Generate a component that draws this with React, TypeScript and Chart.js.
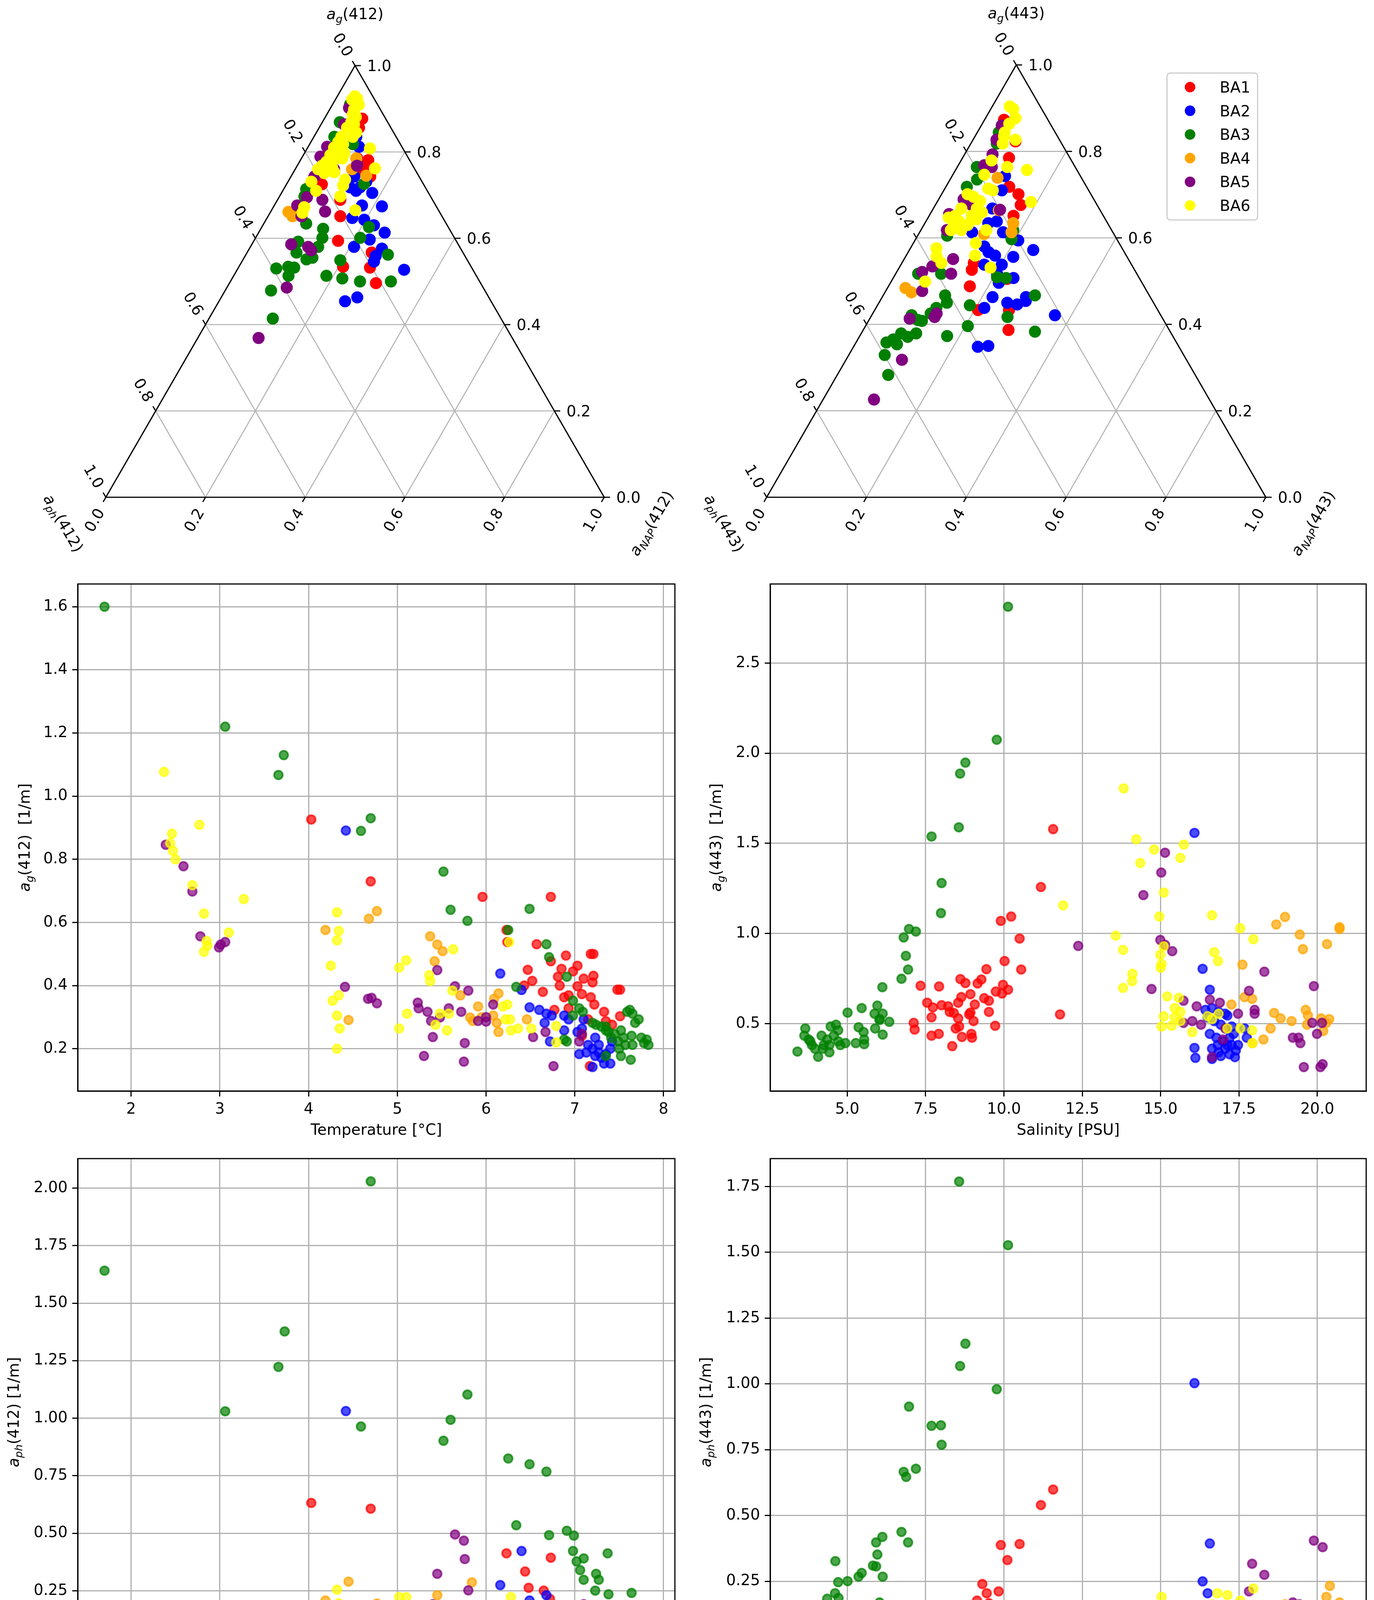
import React, { useEffect, useRef } from 'react';
import { Chart, registerables } from 'chart.js';

Chart.register(...registerables);
Chart.defaults.font.family = '"DejaVu Sans", sans-serif';

const FONT = '"DejaVu Sans", sans-serif';
const S3 = Math.sqrt(3);
const GROUPS = ['BA1', 'BA2', 'BA3', 'BA4', 'BA5', 'BA6'];
const COLORS = ['255,0,0', '0,0,255', '0,128,0', '255,165,0', '128,0,128', '255,255,0'];
const TERN_TICKS = [0, 0.2, 0.4, 0.6, 0.8, 1.0];
const TERN_GRID = [0.2, 0.4, 0.6, 0.8];

// ---------- ternary data: [a_g, a_NAP] fractions (a_ph = 1 - a_g - a_NAP) ----------
const t412BA1 = [[0.877,0.076],[0.856,0.080],[0.842,0.077],[0.785,0.112],[0.781,0.136],[0.768,0.138],[0.760,0.126],[0.743,0.159],[0.725,0.071],[0.689,0.126],[0.651,0.145],[0.567,0.250],[0.594,0.169],[0.534,0.209],[0.532,0.264],[0.496,0.294]];
const t412BA2 = [[0.835,0.085],[0.812,0.102],[0.770,0.119],[0.743,0.127],[0.718,0.131],[0.710,0.147],[0.705,0.182],[0.676,0.176],[0.674,0.217],[0.647,0.171],[0.643,0.197],[0.630,0.223],[0.613,0.253],[0.597,0.231],[0.580,0.208],[0.576,0.266],[0.559,0.262],[0.546,0.265],[0.527,0.335],[0.463,0.273],[0.454,0.253],[0.718,0.151],[0.731,0.157]];
const t412BA3 = [[0.910,0.035],[0.869,0.035],[0.835,0.041],[0.818,0.087],[0.714,0.045],[0.697,0.050],[0.726,0.155],[0.634,0.085],[0.622,0.125],[0.601,0.134],[0.580,0.136],[0.592,0.090],[0.567,0.099],[0.551,0.127],[0.555,0.137],[0.530,0.077],[0.534,0.099],[0.532,0.112],[0.513,0.110],[0.549,0.196],[0.513,0.186],[0.507,0.221],[0.500,0.260],[0.500,0.322],[0.479,0.092],[0.414,0.128],[0.626,0.215],[0.601,0.210],[0.562,0.285]];
const t412BA4 = [[0.845,0.076],[0.785,0.110],[0.745,0.150],[0.661,0.036],[0.651,0.049],[0.760,0.114]];
const t412BA5 = [[0.902,0.037],[0.864,0.046],[0.812,0.038],[0.789,0.036],[0.768,0.120],[0.743,0.047],[0.695,0.056],[0.689,0.090],[0.676,0.046],[0.651,0.067],[0.662,0.109],[0.586,0.079],[0.580,0.116],[0.572,0.126],[0.486,0.120],[0.369,0.122],[0.760,0.078]];
const t412BA6 = [[0.929,0.035],[0.923,0.043],[0.921,0.034],[0.910,0.047],[0.909,0.053],[0.898,0.049],[0.887,0.052],[0.881,0.061],[0.869,0.058],[0.864,0.066],[0.856,0.056],[0.845,0.080],[0.835,0.078],[0.835,0.055],[0.823,0.055],[0.818,0.067],[0.808,0.126],[0.810,0.053],[0.802,0.065],[0.797,0.080],[0.793,0.054],[0.785,0.070],[0.785,0.082],[0.777,0.054],[0.768,0.050],[0.764,0.072],[0.760,0.046],[0.751,0.063],[0.753,0.082],[0.762,0.159],[0.736,0.112],[0.722,0.115],[0.731,0.047],[0.710,0.067],[0.697,0.122],[0.672,0.062],[0.659,0.065],[0.665,0.168]];

const t443BA1 = [[0.873,0.039],[0.823,0.087],[0.785,0.093],[0.701,0.154],[0.676,0.171],[0.651,0.169],[0.718,0.127],[0.526,0.148],[0.542,0.144],[0.488,0.163],[0.433,0.269],[0.387,0.291],[0.433,0.207],[0.505,0.229]];
const t443BA2 = [[0.743,0.106],[0.710,0.116],[0.668,0.118],[0.638,0.142],[0.634,0.127],[0.613,0.105],[0.613,0.167],[0.609,0.182],[0.594,0.207],[0.572,0.248],[0.580,0.146],[0.567,0.161],[0.559,0.178],[0.538,0.202],[0.556,0.216],[0.538,0.167],[0.517,0.203],[0.496,0.217],[0.507,0.241],[0.463,0.221],[0.438,0.217],[0.450,0.257],[0.446,0.279],[0.463,0.288],[0.454,0.292],[0.421,0.367],[0.348,0.249],[0.350,0.269]];
const t443BA3 = [[0.844,0.043],[0.818,0.052],[0.764,0.039],[0.735,0.054],[0.718,0.042],[0.605,0.059],[0.618,0.185],[0.597,0.192],[0.517,0.045],[0.517,0.091],[0.467,0.124],[0.450,0.136],[0.444,0.185],[0.509,0.207],[0.507,0.226],[0.417,0.274],[0.467,0.304],[0.383,0.346],[0.373,0.175],[0.396,0.205],[0.425,0.116],[0.438,0.121],[0.421,0.080],[0.410,0.098],[0.408,0.107],[0.379,0.080],[0.371,0.097],[0.379,0.110],[0.358,0.061],[0.365,0.071],[0.354,0.084],[0.329,0.072],[0.283,0.102]];
const t443BA4 = [[0.739,0.093],[0.664,0.133],[0.634,0.177],[0.613,0.184],[0.609,0.131],[0.484,0.036],[0.474,0.053]];
const t443BA5 = [[0.860,0.041],[0.827,0.047],[0.793,0.056],[0.768,0.052],[0.764,0.069],[0.689,0.050],[0.676,0.073],[0.655,0.038],[0.634,0.061],[0.618,0.052],[0.665,0.135],[0.551,0.098],[0.517,0.111],[0.521,0.051],[0.534,0.065],[0.477,0.073],[0.413,0.080],[0.417,0.128],[0.425,0.128],[0.318,0.112],[0.226,0.102]];
const t443BA6 = [[0.904,0.035],[0.898,0.045],[0.877,0.060],[0.864,0.054],[0.844,0.055],[0.835,0.058],[0.827,0.085],[0.818,0.064],[0.779,0.061],[0.764,0.100],[0.757,0.143],[0.746,0.063],[0.683,0.188],[0.701,0.052],[0.695,0.067],[0.685,0.085],[0.668,0.087],[0.659,0.102],[0.651,0.085],[0.643,0.099],[0.668,0.056],[0.651,0.052],[0.647,0.041],[0.638,0.067],[0.626,0.061],[0.630,0.088],[0.618,0.081],[0.618,0.060],[0.618,0.131],[0.588,0.125],[0.559,0.138],[0.576,0.052],[0.557,0.062],[0.542,0.079],[0.531,0.183],[0.499,0.068],[0.714,0.087],[0.710,0.098]];

// ---------- Temperature [°C] vs a_g(412) ----------
const tAg412BA1 = [[4.03,0.926],[4.70,0.73],[5.96,0.681],[6.73,0.681],[6.23,0.576],[6.24,0.538],[6.57,0.531],[6.90,0.495],[7.18,0.50],[7.21,0.50],[6.73,0.477],[7.03,0.463],[6.85,0.453],[6.47,0.45],[7.21,0.431],[6.81,0.428],[7.20,0.41],[6.52,0.415],[6.43,0.40],[6.83,0.40],[7.03,0.398],[6.64,0.38],[7.48,0.387],[7.51,0.387],[6.93,0.369],[7.08,0.373],[7.18,0.363],[6.88,0.363],[7.22,0.34],[6.77,0.323],[7.33,0.317],[7.51,0.303],[7.15,0.293],[7.35,0.287],[7.42,0.276],[7.08,0.241],[7.17,0.145],[6.98,0.445],[7.10,0.422],[6.93,0.328]];
const tAg412BA2 = [[4.42,0.891],[6.16,0.438],[6.40,0.386],[6.49,0.331],[6.60,0.323],[6.68,0.311],[6.66,0.282],[6.74,0.305],[6.88,0.305],[6.93,0.293],[6.72,0.223],[6.88,0.258],[7.03,0.253],[7.10,0.293],[7.08,0.264],[7.05,0.183],[7.15,0.212],[7.23,0.235],[7.20,0.20],[7.27,0.188],[7.30,0.171],[7.35,0.183],[7.40,0.153],[7.23,0.177],[7.13,0.188],[7.40,0.20],[7.20,0.142],[7.42,0.223],[7.27,0.212],[7.33,0.153]];
const tAg412BA3 = [[1.70,1.60],[3.06,1.22],[3.72,1.13],[3.66,1.067],[4.70,0.93],[4.59,0.89],[5.52,0.761],[5.60,0.64],[5.79,0.605],[6.49,0.643],[6.25,0.576],[6.68,0.531],[6.71,0.49],[6.91,0.428],[6.34,0.396],[6.98,0.352],[7.05,0.328],[7.09,0.317],[6.98,0.305],[7.20,0.282],[7.24,0.276],[7.35,0.27],[7.38,0.253],[7.45,0.247],[7.41,0.235],[7.49,0.223],[7.62,0.323],[7.59,0.317],[7.65,0.311],[7.72,0.293],[7.68,0.282],[7.52,0.258],[7.55,0.235],[7.64,0.241],[7.75,0.235],[7.81,0.229],[7.78,0.218],[7.83,0.212],[7.65,0.212],[7.57,0.212],[7.50,0.20],[7.52,0.177],[7.63,0.165],[7.35,0.177],[6.91,0.223],[6.88,0.229],[7.35,0.258],[7.30,0.27]];
const tAg412BA4 = [[4.19,0.576],[4.77,0.636],[4.68,0.612],[5.37,0.556],[5.45,0.53],[5.51,0.509],[5.42,0.477],[4.45,0.291],[5.71,0.369],[5.91,0.334],[5.82,0.299],[5.85,0.288],[6.09,0.358],[6.14,0.375],[6.08,0.305],[6.12,0.282],[6.14,0.253],[6.46,0.293],[5.95,0.30]];
const tAg412BA5 = [[2.39,0.846],[2.59,0.778],[2.69,0.698],[2.78,0.556],[2.99,0.521],[3.06,0.538],[3.01,0.53],[4.41,0.396],[5.45,0.449],[4.67,0.358],[4.71,0.361],[4.77,0.344],[5.23,0.346],[5.24,0.328],[5.34,0.317],[5.38,0.288],[5.48,0.299],[5.58,0.328],[5.65,0.398],[5.80,0.384],[5.72,0.317],[5.91,0.288],[6.00,0.30],[6.00,0.286],[6.08,0.34],[5.40,0.237],[5.76,0.218],[5.30,0.177],[5.75,0.159],[6.53,0.237],[6.67,0.253],[6.76,0.145],[7.08,0.247],[7.05,0.223]];
const tAg412BA6 = [[2.37,1.077],[2.77,0.909],[2.46,0.881],[2.44,0.851],[2.47,0.827],[2.50,0.80],[2.69,0.718],[3.27,0.674],[2.82,0.628],[3.10,0.568],[2.85,0.541],[2.86,0.527],[2.82,0.507],[4.32,0.632],[4.34,0.573],[4.32,0.543],[4.25,0.463],[4.34,0.369],[4.27,0.352],[4.32,0.305],[4.35,0.264],[4.32,0.20],[5.02,0.457],[5.10,0.48],[5.11,0.311],[5.02,0.264],[5.36,0.433],[5.37,0.414],[5.63,0.515],[5.62,0.384],[5.48,0.311],[5.58,0.311],[5.43,0.276],[5.56,0.258],[6.19,0.334],[6.24,0.34],[6.26,0.538],[6.22,0.293],[6.27,0.293],[6.28,0.258],[6.36,0.264],[6.51,0.264],[6.79,0.272],[6.79,0.22]];

// ---------- Salinity [PSU] vs a_g(443) ----------
const sAg443BA1 = [[11.57,1.579],[11.18,1.258],[10.23,1.094],[9.90,1.07],[10.50,0.972],[10.02,0.847],[9.44,0.802],[10.55,0.80],[7.34,0.71],[7.93,0.706],[8.61,0.747],[8.77,0.725],[9.16,0.723],[9.28,0.745],[9.97,0.715],[9.74,0.678],[10.13,0.688],[9.94,0.667],[8.93,0.663],[8.64,0.647],[9.37,0.641],[9.52,0.627],[7.55,0.616],[7.73,0.59],[8.01,0.602],[8.22,0.596],[8.27,0.565],[8.40,0.559],[8.54,0.616],[9.07,0.606],[8.93,0.561],[8.89,0.551],[9.52,0.565],[7.69,0.535],[8.54,0.529],[9.03,0.514],[7.12,0.504],[7.15,0.467],[8.46,0.473],[8.57,0.484],[9.72,0.488],[7.69,0.433],[7.92,0.443],[8.66,0.426],[8.96,0.443],[8.98,0.422],[8.35,0.375],[11.79,0.551]];
const sAg443BA2 = [[16.08,1.558],[16.34,0.804],[16.57,0.688],[16.43,0.576],[16.64,0.586],[16.85,0.565],[17.06,0.555],[16.50,0.535],[16.71,0.514],[16.92,0.494],[17.13,0.545],[17.27,0.484],[16.57,0.443],[16.78,0.422],[16.99,0.402],[17.20,0.422],[17.33,0.443],[17.47,0.381],[17.68,0.473],[17.75,0.422],[16.64,0.361],[16.85,0.341],[17.06,0.361],[17.20,0.33],[17.40,0.351],[17.27,0.381],[16.08,0.365],[16.11,0.31],[16.64,0.304],[17.37,0.314],[16.92,0.32],[17.13,0.381],[16.82,0.381]];
const sAg443BA3 = [[10.13,2.813],[9.77,2.075],[8.77,1.948],[8.60,1.887],[8.56,1.589],[7.69,1.538],[8.01,1.28],[7.99,1.113],[6.97,1.025],[7.19,1.011],[6.80,0.978],[6.87,0.876],[6.94,0.80],[6.73,0.749],[6.12,0.702],[5.01,0.561],[5.46,0.586],[5.96,0.60],[5.87,0.555],[6.13,0.555],[6.03,0.525],[6.34,0.51],[6.13,0.439],[5.89,0.473],[5.36,0.48],[5.52,0.453],[5.54,0.412],[5.27,0.392],[5.54,0.386],[3.66,0.473],[3.63,0.433],[3.77,0.412],[3.87,0.381],[3.97,0.361],[4.07,0.316],[3.41,0.345],[4.18,0.433],[4.36,0.412],[4.47,0.484],[4.64,0.494],[4.71,0.463],[4.43,0.381],[4.71,0.402],[4.78,0.381],[4.94,0.392],[4.43,0.341],[3.82,0.402],[4.25,0.381],[4.22,0.361],[4.57,0.433],[6.03,0.52]];
const sAg443BA4 = [[20.71,1.035],[20.71,1.025],[18.97,1.092],[18.69,1.05],[19.44,0.994],[20.31,0.941],[19.54,0.913],[17.61,0.827],[17.68,0.647],[17.92,0.637],[17.26,0.606],[18.62,0.559],[18.83,0.529],[19.18,0.514],[19.63,0.576],[19.70,0.545],[19.67,0.494],[20.12,0.529],[20.38,0.525],[20.29,0.504],[20.19,0.459],[18.51,0.473],[17.93,0.392],[18.28,0.412]];
const sAg443BA5 = [[15.14,1.448],[15.02,1.338],[14.45,1.213],[12.37,0.931],[14.99,0.964],[15.14,0.937],[15.37,0.902],[14.71,0.692],[18.31,0.788],[19.89,0.708],[17.82,0.682],[16.15,0.596],[16.57,0.633],[16.89,0.616],[17.47,0.555],[18.0,0.576],[18.0,0.555],[15.73,0.504],[16.01,0.514],[16.29,0.494],[17.06,0.473],[16.99,0.412],[16.64,0.314],[19.22,0.422],[19.40,0.422],[19.46,0.392],[19.84,0.504],[19.99,0.443],[20.15,0.504],[19.57,0.259],[20.10,0.259],[20.17,0.275],[15.73,0.627]];
const sAg443BA6 = [[13.82,1.805],[14.22,1.523],[14.79,1.466],[15.74,1.493],[15.63,1.419],[14.35,1.391],[15.10,1.227],[11.89,1.156],[14.96,1.094],[16.64,1.101],[13.57,0.988],[13.80,0.909],[14.99,0.882],[15.10,0.929],[15.03,0.831],[15.0,0.81],[16.71,0.896],[16.83,0.847],[17.54,1.029],[17.96,0.968],[14.10,0.776],[14.09,0.735],[13.80,0.698],[15.21,0.651],[15.58,0.643],[15.45,0.586],[15.63,0.565],[15.45,0.535],[15.63,0.514],[15.10,0.541],[15.03,0.484],[15.35,0.488],[16.01,0.453],[16.50,0.541],[16.64,0.525],[16.85,0.555],[17.13,0.473],[17.54,0.473],[17.92,0.463],[17.93,0.392]];

// ---------- Temperature [°C] vs a_ph(412) ----------
const tAph412BA1 = [[4.03,0.632],[4.70,0.607],[6.23,0.413],[6.73,0.394],[6.44,0.334],[6.48,0.263],[6.65,0.251],[6.72,0.215],[6.67,0.187],[6.84,0.18],[6.93,0.16],[7.05,0.152],[7.18,0.176],[6.78,0.12],[6.78,0.088],[6.91,0.064],[7.03,0.048],[7.13,0.04],[7.20,0.032],[7.28,0.024],[7.35,0.021],[7.42,0.027],[7.47,0.032],[7.30,0.048],[7.40,0.056],[6.96,0.088],[7.08,0.104],[7.23,0.088],[6.51,0.176],[6.56,0.16]];
const tAph412BA2 = [[4.42,1.031],[6.40,0.423],[6.16,0.275],[6.68,0.231],[6.49,0.208],[6.59,0.176],[6.68,0.168],[6.76,0.152],[6.71,0.12],[6.73,0.104],[6.83,0.136],[6.86,0.112],[6.88,0.096],[6.93,0.16],[6.98,0.144],[7.03,0.12],[7.08,0.136],[7.13,0.112],[7.18,0.096],[7.23,0.136],[7.25,0.12],[7.30,0.104],[7.35,0.088],[7.33,0.072],[7.25,0.08],[7.15,0.088],[7.10,0.072],[6.93,0.088],[7.40,0.112],[7.42,0.072]];
const tAph412BA3 = [[1.70,1.641],[4.70,2.029],[3.73,1.377],[3.66,1.223],[3.06,1.03],[4.59,0.964],[5.79,1.103],[5.60,0.993],[5.52,0.902],[6.25,0.825],[6.49,0.80],[6.68,0.768],[6.34,0.535],[6.71,0.492],[6.91,0.511],[6.99,0.49],[6.98,0.423],[7.02,0.378],[7.10,0.391],[7.37,0.413],[7.06,0.34],[7.10,0.298],[7.24,0.324],[7.27,0.298],[7.23,0.251],[7.38,0.235],[7.64,0.241],[7.38,0.18],[7.40,0.168],[7.60,0.187],[7.76,0.164],[7.55,0.152],[7.67,0.152],[7.72,0.144],[7.47,0.12],[7.52,0.112],[7.59,0.104],[7.61,0.096],[7.55,0.088],[7.35,0.088],[7.33,0.072],[7.80,0.075],[7.81,0.056],[7.82,0.04],[7.72,0.048],[7.62,0.04],[7.64,0.032],[6.88,0.032],[7.45,0.056]];
const tAph412BA4 = [[4.19,0.208],[4.45,0.29],[4.68,0.176],[4.77,0.195],[5.45,0.231],[5.84,0.287],[5.80,0.10],[5.86,0.072],[5.91,0.104],[6.07,0.12],[6.09,0.112],[6.12,0.128],[6.14,0.104],[6.08,0.10],[6.13,0.072],[6.46,0.088],[5.70,0.152],[5.53,0.12]];
const tAph412BA5 = [[2.39,0.064],[2.59,0.085],[2.69,0.088],[2.76,0.088],[2.99,0.144],[3.06,0.128],[2.99,0.10],[4.41,0.12],[4.65,0.072],[4.70,0.08],[4.77,0.075],[5.65,0.495],[5.75,0.468],[5.76,0.388],[5.45,0.324],[5.80,0.252],[5.23,0.144],[5.26,0.123],[5.33,0.168],[5.40,0.192],[5.55,0.187],[5.72,0.144],[5.90,0.152],[6.00,0.144],[5.95,0.128],[6.08,0.184],[7.10,0.192],[7.15,0.171],[6.98,0.152]];
const tAph412BA6 = [[2.37,0.075],[2.44,0.08],[2.47,0.056],[2.52,0.064],[2.69,0.064],[2.79,0.08],[2.84,0.072],[2.86,0.064],[3.10,0.064],[3.27,0.091],[4.32,0.255],[4.34,0.196],[4.29,0.16],[4.32,0.136],[4.27,0.112],[4.34,0.104],[4.24,0.096],[5.02,0.223],[5.10,0.223],[5.10,0.152],[5.02,0.125],[5.36,0.155],[5.43,0.16],[5.48,0.136],[5.55,0.128],[5.62,0.112],[5.56,0.104],[5.45,0.112],[5.36,0.08],[5.62,0.18],[5.65,0.16],[6.19,0.176],[6.24,0.152],[6.27,0.136],[6.22,0.128],[6.28,0.223],[6.36,0.18],[6.51,0.125],[6.79,0.144],[6.78,0.12]];

// ---------- Salinity [PSU] vs a_ph(443) ----------
const sAph443BA1 = [[11.57,0.599],[11.18,0.54],[9.90,0.388],[10.50,0.392],[10.11,0.331],[9.31,0.24],[9.45,0.205],[9.83,0.212],[9.14,0.177],[9.52,0.167],[7.54,0.126],[7.71,0.114],[9.94,0.149],[10.57,0.14],[10.08,0.128],[10.22,0.128],[8.57,0.135],[8.75,0.142],[8.66,0.121],[9.07,0.121],[8.93,0.10],[8.99,0.087],[8.89,0.066],[8.27,0.087],[8.40,0.07],[8.54,0.075],[8.68,0.059],[8.01,0.052],[8.13,0.045],[8.47,0.038],[8.61,0.045],[8.80,0.052],[9.53,0.084],[9.42,0.052],[9.97,0.087],[9.66,0.10],[7.36,0.038],[7.71,0.024],[7.96,0.028],[7.12,0.02],[7.15,0.024],[8.33,0.021],[8.99,0.024],[11.79,0.081]];
const sAph443BA2 = [[16.08,1.003],[16.57,0.394],[16.34,0.25],[16.50,0.205],[16.36,0.156],[16.57,0.149],[16.78,0.142],[16.99,0.135],[16.64,0.114],[16.85,0.10],[17.06,0.087],[17.27,0.10],[17.20,0.073],[16.57,0.059],[16.78,0.052],[16.99,0.038],[17.20,0.045],[17.40,0.052],[17.33,0.073],[16.64,0.038],[16.11,0.066],[17.75,0.087],[17.68,0.114]];
const sAph443BA3 = [[8.57,1.769],[10.13,1.527],[8.77,1.153],[8.60,1.068],[9.77,0.98],[6.97,0.914],[7.69,0.841],[7.99,0.843],[8.01,0.769],[7.19,0.678],[6.80,0.666],[6.88,0.647],[6.73,0.438],[6.94,0.398],[6.12,0.419],[5.92,0.398],[5.96,0.352],[5.82,0.31],[5.92,0.307],[6.13,0.268],[4.62,0.327],[4.71,0.247],[5.01,0.251],[5.36,0.268],[5.46,0.282],[4.61,0.205],[4.72,0.187],[4.36,0.184],[6.03,0.17],[6.13,0.153],[6.34,0.131],[3.66,0.142],[3.80,0.142],[3.87,0.128],[4.19,0.142],[4.43,0.114],[3.42,0.052],[3.66,0.073],[3.73,0.093],[3.87,0.045],[4.05,0.031],[4.11,0.024],[3.94,0.066],[4.08,0.073],[4.36,0.087],[4.43,0.045],[4.50,0.052],[4.64,0.073],[4.75,0.066],[4.71,0.031],[5.29,0.059],[5.33,0.094],[5.52,0.08],[5.54,0.038],[4.94,0.024],[5.89,0.052]];
const sAph443BA4 = [[20.40,0.233],[20.29,0.191],[20.71,0.17],[18.70,0.148],[18.97,0.163],[17.26,0.128],[17.61,0.121],[18.62,0.08],[18.83,0.087],[19.16,0.07],[19.63,0.08],[19.67,0.094],[19.70,0.073],[20.01,0.052],[20.19,0.056],[20.38,0.073]];
const sAph443BA5 = [[12.37,0.105],[14.45,0.075],[14.71,0.10],[15.14,0.052],[15.38,0.087],[15.66,0.10],[15.94,0.107],[16.15,0.114],[16.36,0.128],[16.64,0.059],[16.85,0.073],[17.06,0.066],[17.27,0.059],[16.85,0.149],[16.99,0.142],[17.82,0.212],[17.92,0.317],[18.31,0.275],[17.89,0.159],[19.22,0.17],[19.43,0.163],[19.57,0.135],[19.84,0.121],[19.99,0.142],[20.15,0.128],[19.89,0.405],[20.17,0.38]];
const sAph443BA6 = [[11.89,0.10],[13.80,0.159],[14.10,0.138],[13.80,0.094],[13.80,0.087],[13.57,0.054],[14.12,0.066],[14.33,0.059],[15.03,0.191],[15.10,0.131],[15.49,0.135],[14.89,0.073],[15.17,0.052],[15.31,0.10],[15.45,0.087],[15.59,0.073],[15.66,0.052],[15.80,0.094],[16.01,0.094],[16.64,0.163],[16.78,0.128],[16.71,0.094],[16.81,0.205],[17.13,0.198],[17.54,0.177],[17.54,0.135],[17.54,0.114],[17.96,0.223],[17.89,0.114],[18.03,0.121],[18.28,0.128]];

// ---------- tick values ----------
const tempTicks = [2, 3, 4, 5, 6, 7, 8];
const salTicks = [5, 7.5, 10, 12.5, 15, 17.5, 20];
const ag412Ticks = [0.2, 0.4, 0.6, 0.8, 1.0, 1.2, 1.4, 1.6];
const ag443Ticks = [0.5, 1.0, 1.5, 2.0, 2.5];
const aph412Ticks = [0, 0.25, 0.5, 0.75, 1.0, 1.25, 1.5, 1.75, 2.0];
const aph443Ticks = [0, 0.25, 0.5, 0.75, 1.0, 1.25, 1.5, 1.75];

type Seg = { t: string; it?: boolean; sub?: boolean };

function drawMath(ctx: CanvasRenderingContext2D, segs: Seg[], x: number, y: number, angle: number, size: number, align: string = 'center') {
  ctx.save();
  ctx.translate(x, y);
  ctx.rotate(angle);
  const fontOf = (s: Seg) => `${s.it ? 'italic ' : ''}${s.sub ? size * 0.7 : size}px ${FONT}`;
  let w = 0;
  const ws = segs.map((s) => {
    ctx.font = fontOf(s);
    const m = ctx.measureText(s.t).width;
    w += m;
    return m;
  });
  let cx = align === 'left' ? 0 : -w / 2;
  ctx.textAlign = 'left';
  ctx.textBaseline = 'alphabetic';
  ctx.fillStyle = '#000';
  const base = size * 0.36;
  segs.forEach((s, i) => {
    ctx.font = fontOf(s);
    ctx.fillText(s.t, cx, base + (s.sub ? size * 0.22 : 0));
    cx += ws[i];
  });
  ctx.restore();
}

function line(ctx: CanvasRenderingContext2D, a: any, b: any) {
  ctx.beginPath();
  ctx.moveTo(a.x, a.y);
  ctx.lineTo(b.x, b.y);
  ctx.stroke();
}

const TERNS = [
  {
    left: 0, top: 0, w: 1759, h: 1450, bx: 271, by: 1273, side: 1276, wl: '412', legend: false,
    data: [t412BA1, t412BA2, t412BA3, t412BA4, t412BA5, t412BA6],
  },
  {
    left: 1759, top: 0, w: 1759, h: 1450, bx: 204, by: 1273, side: 1278, wl: '443', legend: true,
    data: [t443BA1, t443BA2, t443BA3, t443BA4, t443BA5, t443BA6],
  },
];

function ternPlugin(t: any) {
  return {
    id: 'tern' + t.wl,
    beforeDatasetsDraw(chart: any) {
      const ctx = chart.ctx as CanvasRenderingContext2D;
      const xs = chart.scales.x;
      const ys = chart.scales.y;
      const P = (ag: number, anap: number) => ({ x: xs.getPixelForValue(anap + ag / 2), y: ys.getPixelForValue((ag * S3) / 2) });
      ctx.save();
      ctx.lineCap = 'butt';
      // grid
      ctx.strokeStyle = '#b3b3b3';
      ctx.lineWidth = 2.6;
      TERN_GRID.forEach((v) => {
        line(ctx, P(v, 0), P(v, 1 - v));
        line(ctx, P(0, v), P(1 - v, v));
        line(ctx, P(0, 1 - v), P(1 - v, 0));
      });
      // boundary
      ctx.strokeStyle = '#000';
      ctx.lineWidth = 3.2;
      ctx.lineJoin = 'miter';
      const A = P(0, 0), B = P(0, 1), C = P(1, 0);
      ctx.beginPath();
      ctx.moveTo(A.x, A.y);
      ctx.lineTo(B.x, B.y);
      ctx.lineTo(C.x, C.y);
      ctx.closePath();
      ctx.stroke();
      // ticks + labels
      ctx.lineWidth = 3;
      TERN_TICKS.forEach((v) => {
        const lab = [{ t: v.toFixed(1) }];
        const pr = P(v, 1 - v);
        line(ctx, pr, { x: pr.x + 15, y: pr.y });
        drawMath(ctx, lab, pr.x + 62, pr.y, 0, 39);
        const pl = P(1 - v, 0);
        line(ctx, pl, { x: pl.x - 7, y: pl.y - 12 });
        drawMath(ctx, lab, pl.x - 30, pl.y - 54, Math.PI / 3, 39);
        const pb = P(0, v);
        line(ctx, pb, { x: pb.x - 7, y: pb.y + 12 });
        drawMath(ctx, lab, pb.x - 30, pb.y + 58, -Math.PI / 3, 39);
      });
      // axis labels
      drawMath(ctx, [{ t: 'a', it: true }, { t: 'g', it: true, sub: true }, { t: `(${t.wl})` }], C.x, C.y - 133, 0, 39);
      drawMath(ctx, [{ t: 'a', it: true }, { t: 'ph', it: true, sub: true }, { t: `(${t.wl})` }], A.x - 108, A.y + 66, Math.PI / 3, 39);
      drawMath(ctx, [{ t: 'a', it: true }, { t: 'NAP', it: true, sub: true }, { t: `(${t.wl})` }], B.x + 120, B.y + 66, -Math.PI / 3, 39);
      ctx.restore();
    },
    afterDatasetsDraw(chart: any) {
      if (!t.legend) return;
      const ctx = chart.ctx as CanvasRenderingContext2D;
      const x0 = 2988 - t.left, y0 = 187, w = 232, h = 376, r = 8;
      ctx.save();
      ctx.beginPath();
      ctx.moveTo(x0 + r, y0);
      ctx.arcTo(x0 + w, y0, x0 + w, y0 + h, r);
      ctx.arcTo(x0 + w, y0 + h, x0, y0 + h, r);
      ctx.arcTo(x0, y0 + h, x0, y0, r);
      ctx.arcTo(x0, y0, x0 + w, y0, r);
      ctx.closePath();
      ctx.fillStyle = 'rgba(255,255,255,0.8)';
      ctx.fill();
      ctx.strokeStyle = '#cccccc';
      ctx.lineWidth = 3;
      ctx.stroke();
      GROUPS.forEach((g, i) => {
        const yy = 223 + i * 60.6;
        ctx.beginPath();
        ctx.arc(3047 - t.left, yy, 13.5, 0, Math.PI * 2);
        ctx.fillStyle = `rgb(${COLORS[i]})`;
        ctx.fill();
        drawMath(ctx, [{ t: g }], 3123 - t.left, yy, 0, 39, 'left');
      });
      ctx.restore();
    },
  };
}

function ternConfig(t: any) {
  const datasets = t.data.map((arr: number[][], i: number) => ({
    label: GROUPS[i],
    data: arr.map(([ag, anap]) => ({ x: anap + ag / 2, y: (ag * S3) / 2 })),
    backgroundColor: `rgb(${COLORS[i]})`,
    borderColor: `rgb(${COLORS[i]})`,
    borderWidth: 5,
    pointRadius: 13,
    pointHoverRadius: 13,
    order: GROUPS.length - i,
    clip: false,
  }));
  return {
    type: 'scatter',
    data: { datasets },
    options: {
      animation: false,
      responsive: false,
      devicePixelRatio: 1,
      events: [],
      layout: { padding: 0, autoPadding: false },
      plugins: { legend: { display: false }, tooltip: { enabled: false } },
      scales: {
        x: { type: 'linear', display: false, min: -t.bx / t.side, max: (t.w - t.bx) / t.side },
        y: { type: 'linear', display: false, min: (t.by - t.h) / t.side, max: t.by / t.side },
      },
    },
    plugins: [ternPlugin(t)],
  };
}

const SCATS = [
  {
    id: 'tAg', left: 0, top: 1450, w: 1759, h: 1480, yW: 199, padTop: 45, padRight: 31, xH: 137, titlePad: 12, yTitleX: 62,
    xMin: 1.398, xMax: 8.128, yMin: 0.066, yMax: 1.672, xTicks: tempTicks, yTicks: ag412Ticks, xDec: 0, yDec: 1,
    xTitle: 'Temperature [°C]', yTitle: [{ t: 'a', it: true }, { t: 'g', it: true, sub: true }, { t: '(412)  [1/m]' }],
    data: [tAg412BA1, tAg412BA2, tAg412BA3, tAg412BA4, tAg412BA5, tAg412BA6],
  },
  {
    id: 'sAg', left: 1759, top: 1450, w: 1759, h: 1480, yW: 213, padTop: 45, padRight: 20, xH: 137, titlePad: 12, yTitleX: 73,
    xMin: 2.54, xMax: 21.56, yMin: 0.126, yMax: 2.939, xTicks: salTicks, yTicks: ag443Ticks, xDec: 1, yDec: 1,
    xTitle: 'Salinity [PSU]', yTitle: [{ t: 'a', it: true }, { t: 'g', it: true, sub: true }, { t: '(443)  [1/m]' }],
    data: [sAg443BA1, sAg443BA2, sAg443BA3, sAg443BA4, sAg443BA5, sAg443BA6],
  },
  {
    id: 'tAph', left: 0, top: 2930, w: 1759, h: 1476, yW: 199, padTop: 36, padRight: 31, xH: 142, titlePad: 14.6, yTitleX: 34,
    xMin: 1.398, xMax: 8.128, yMin: -0.075, yMax: 2.128, xTicks: tempTicks, yTicks: aph412Ticks, xDec: 0, yDec: 2,
    xTitle: 'Temperature [°C]', yTitle: [{ t: 'a', it: true }, { t: 'ph', it: true, sub: true }, { t: '(412) [1/m]' }],
    data: [tAph412BA1, tAph412BA2, tAph412BA3, tAph412BA4, tAph412BA5, tAph412BA6],
  },
  {
    id: 'sAph', left: 1759, top: 2930, w: 1759, h: 1476, yW: 213, padTop: 36, padRight: 20, xH: 142, titlePad: 14.6, yTitleX: 47,
    xMin: 2.54, xMax: 21.56, yMin: -0.07, yMax: 1.856, xTicks: salTicks, yTicks: aph443Ticks, xDec: 1, yDec: 2,
    xTitle: 'Salinity [PSU]', yTitle: [{ t: 'a', it: true }, { t: 'ph', it: true, sub: true }, { t: '(443) [1/m]' }],
    data: [sAph443BA1, sAph443BA2, sAph443BA3, sAph443BA4, sAph443BA5, sAph443BA6],
  },
];

function scatConfig(p: any) {
  const datasets = p.data.map((arr: number[][], i: number) => ({
    label: GROUPS[i],
    data: arr.map(([x, y]) => ({ x, y })),
    backgroundColor: `rgba(${COLORS[i]},0.7)`,
    borderColor: `rgba(${COLORS[i]},0.7)`,
    borderWidth: 4.5,
    pointRadius: 11,
    pointHoverRadius: 11,
    order: GROUPS.length - i,
  }));
  const tickFont = { family: FONT, size: 39 };
  const grid = { color: '#b0b0b0', lineWidth: 3, drawTicks: true, tickLength: 14, tickColor: '#000', tickWidth: 3 };
  const border = { color: '#000', width: 3 };
  return {
    type: 'scatter',
    data: { datasets },
    options: {
      animation: false,
      responsive: false,
      devicePixelRatio: 1,
      events: [],
      layout: { autoPadding: false, padding: { left: 0, top: p.padTop, right: p.padRight, bottom: 0 } },
      plugins: { legend: { display: false }, tooltip: { enabled: false } },
      scales: {
        x: {
          type: 'linear', min: p.xMin, max: p.xMax,
          afterFit: (s: any) => { s.height = p.xH; },
          afterBuildTicks: (s: any) => { s.ticks = p.xTicks.map((v: number) => ({ value: v })); },
          ticks: { callback: (v: any) => Number(v).toFixed(p.xDec), font: tickFont, color: '#000', padding: 10, maxRotation: 0, minRotation: 0, autoSkip: false },
          grid, border,
          title: { display: true, text: p.xTitle, font: { family: FONT, size: 39, lineHeight: 1.2 }, color: '#000', padding: { top: 0, bottom: p.titlePad } },
        },
        y: {
          type: 'linear', min: p.yMin, max: p.yMax,
          afterFit: (s: any) => { s.width = p.yW; },
          afterBuildTicks: (s: any) => { s.ticks = p.yTicks.map((v: number) => ({ value: v })); },
          ticks: { callback: (v: any) => Number(v).toFixed(p.yDec), font: tickFont, color: '#000', padding: 12, autoSkip: false },
          grid, border,
        },
      },
    },
    plugins: [
      {
        id: 'frame' + p.id,
        afterDatasetsDraw(chart: any) {
          const { ctx, chartArea: a } = chart;
          ctx.save();
          ctx.strokeStyle = '#000';
          ctx.lineWidth = 3;
          ctx.strokeRect(a.left, a.top, a.right - a.left, a.bottom - a.top);
          ctx.restore();
        },
        afterDraw(chart: any) {
          const a = chart.chartArea;
          drawMath(chart.ctx, p.yTitle, p.yTitleX, (a.top + a.bottom) / 2, -Math.PI / 2, 39);
        },
      },
    ],
  };
}

const ALL = [
  ...TERNS.map((t) => ({ left: t.left, top: t.top, w: t.w, h: t.h, make: () => ternConfig(t) })),
  ...SCATS.map((p) => ({ left: p.left, top: p.top, w: p.w, h: p.h, make: () => scatConfig(p) })),
];

export default function App() {
  const canv = useRef<(HTMLCanvasElement | null)[]>([]);
  useEffect(() => {
    const charts = ALL.map((c, i) => new Chart(canv.current[i] as HTMLCanvasElement, c.make() as any));
    return () => charts.forEach((c) => c.destroy());
  }, []);
  return (
    <div style={{ position: 'absolute', left: 0, top: 0, width: 3518, height: 4406, background: '#fff', overflow: 'hidden' }}>
      {ALL.map((c, i) => (
        <canvas
          key={i}
          ref={(el) => { canv.current[i] = el; }}
          width={c.w}
          height={c.h}
          style={{ position: 'absolute', left: c.left, top: c.top, width: c.w, height: c.h }}
        />
      ))}
    </div>
  );
}
